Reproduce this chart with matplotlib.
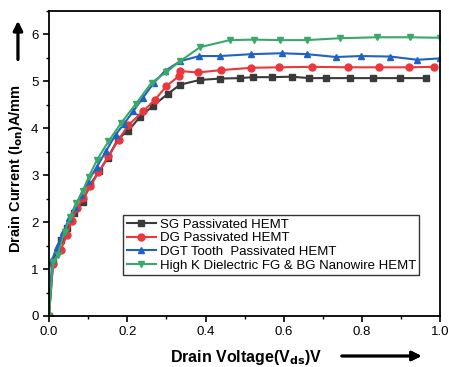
import matplotlib.pyplot as plt
from matplotlib.ticker import MultipleLocator

plt.rcParams['font.family'] = ['Liberation Sans', 'DejaVu Sans']

# SG Passivated HEMT
sg_x = [0.0, 0.011, 0.032, 0.045, 0.064, 0.086, 0.105, 0.128, 0.15, 0.177, 0.203, 0.232,
        0.266, 0.303, 0.335, 0.385, 0.437, 0.489, 0.52, 0.569, 0.62, 0.664, 0.707, 0.77,
        0.827, 0.896, 0.964]
sg_y = [0.0, 1.16, 1.62, 1.87, 2.19, 2.44, 2.8, 3.08, 3.37, 3.78, 3.95, 4.24,
        4.48, 4.73, 4.93, 5.03, 5.06, 5.07, 5.09, 5.09, 5.1, 5.07, 5.07, 5.07,
        5.07, 5.07, 5.07]

# DG Passivated HEMT
dg_x = [0.0, 0.01, 0.03, 0.045, 0.058, 0.072, 0.088, 0.106, 0.126, 0.152, 0.178, 0.202,
        0.24, 0.27, 0.3, 0.333, 0.335, 0.38, 0.44, 0.517, 0.587, 0.671, 0.764, 0.842,
        0.919, 0.983]
dg_y = [0.0, 1.1, 1.4, 1.72, 2.02, 2.3, 2.52, 2.76, 3.06, 3.4, 3.76, 4.06,
        4.36, 4.6, 4.9, 5.12, 5.22, 5.19, 5.24, 5.29, 5.3, 5.31, 5.3, 5.3,
        5.3, 5.31]

# DGT Tooth Passivated HEMT
dgt_x = [0.0, 0.008, 0.02, 0.036, 0.052, 0.066, 0.082, 0.1, 0.122, 0.146, 0.17, 0.192,
         0.215, 0.24, 0.268, 0.296, 0.335, 0.384, 0.437, 0.517, 0.594, 0.659, 0.733,
         0.796, 0.872, 0.941, 0.998]
dgt_y = [0.0, 1.2, 1.46, 1.78, 2.08, 2.32, 2.58, 2.87, 3.17, 3.52, 3.86, 4.1,
         4.36, 4.65, 4.97, 5.22, 5.43, 5.54, 5.54, 5.58, 5.6, 5.58, 5.52,
         5.54, 5.53, 5.46, 5.49]

# High K Dielectric FG & BG Nanowire HEMT
hk_x = [0.0, 0.01, 0.022, 0.04, 0.055, 0.07, 0.086, 0.102, 0.123, 0.152, 0.185, 0.222,
        0.262, 0.3, 0.335, 0.386, 0.462, 0.523, 0.59, 0.659, 0.743, 0.837, 0.923, 0.998]
hk_y = [0.0, 1.15, 1.3, 1.8, 2.1, 2.4, 2.66, 2.97, 3.33, 3.72, 4.12, 4.52,
        4.97, 5.2, 5.43, 5.73, 5.88, 5.89, 5.88, 5.88, 5.92, 5.94, 5.94, 5.93]

fig = plt.figure(figsize=(4.49, 3.67), dpi=100)
ax = fig.add_axes([0.109, 0.139, 0.872, 0.831])

ax.plot(sg_x, sg_y, color='#3a3a3a', marker='s', markersize=4.5, lw=1.5, label='SG Passivated HEMT')
ax.plot(dg_x, dg_y, color='#e8383d', marker='o', markersize=5, lw=1.5, label='DG Passivated HEMT')
ax.plot(dgt_x, dgt_y, color='#1f62c4', marker='^', markersize=5, lw=1.5, label='DGT Tooth  Passivated HEMT')
ax.plot(hk_x, hk_y, color='#3aa86a', marker='v', markersize=5, lw=1.5,
        label='High K Dielectric FG & BG Nanowire HEMT')

ax.set_xlim(0, 1.0)
ax.set_ylim(0, 6.5)
ax.xaxis.set_major_locator(MultipleLocator(0.2))
ax.xaxis.set_minor_locator(MultipleLocator(0.1))
ax.yaxis.set_major_locator(MultipleLocator(1))
ax.yaxis.set_minor_locator(MultipleLocator(0.5))
ax.xaxis.set_major_formatter(plt.FuncFormatter(lambda v, p: '%.1f' % v))
ax.tick_params(labelsize=9.5, width=1.2, length=4)
ax.tick_params(which='minor', width=1, length=2.5)
for s in ax.spines.values():
    s.set_linewidth(1.3)

ax.legend(loc='lower left', bbox_to_anchor=(0.19, 0.135), fontsize=9.5, frameon=True,
          fancybox=False, edgecolor='black', handlelength=2.2, handletextpad=0.3,
          borderpad=0.25, labelspacing=0.1, borderaxespad=0)

fig.text(0.035, 0.54, 'Drain Current (I$_{\\mathbf{on}}$)A/mm', rotation=90, fontsize=10.5,
         fontweight='bold', ha='center', va='center')
fig.text(0.548, 0.027, 'Drain Voltage(V$_{\\mathbf{ds}}$)V', fontsize=11.5,
         fontweight='bold', ha='center', va='center')
fig.add_artist(plt.annotate('', xy=(0.04, 0.95), xycoords='figure fraction',
                            xytext=(0.04, 0.83), textcoords='figure fraction',
                            arrowprops=dict(arrowstyle='-|>', color='black', lw=2, mutation_scale=14)))
fig.add_artist(plt.annotate('', xy=(0.945, 0.03), xycoords='figure fraction',
                            xytext=(0.755, 0.03), textcoords='figure fraction',
                            arrowprops=dict(arrowstyle='-|>', color='black', lw=2, mutation_scale=14)))

fig.savefig('out.png', dpi=100)
